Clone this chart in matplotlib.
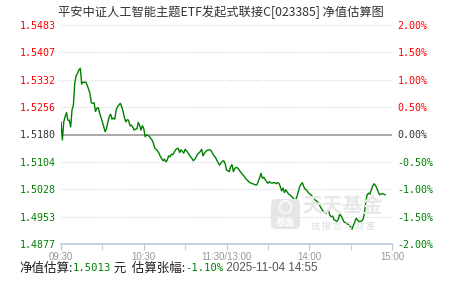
import numpy as np
import matplotlib
matplotlib.use("Agg")
import matplotlib.pyplot as plt
from matplotlib.patches import FancyBboxPatch, Circle
from matplotlib.transforms import Affine2D

plt.rcParams['font.family'] = ['Noto Sans CJK SC', 'DejaVu Sans']

# 估算涨跌幅 (%)，09:30 起每分钟一个点，到 14:55
pct = [0.23, -0.10, 0.23, 0.33, 0.40, 0.26, 0.26, 0.14, 0.45, 0.54,
       0.95, 1.07, 1.12, 1.18, 1.21, 0.92, 0.96, 0.95, 0.96, 0.90,
       0.83, 0.75, 0.58, 0.57, 0.58, 0.42, 0.48, 0.49, 0.39, 0.31,
       0.23, 0.14, 0.05, 0.11, 0.23, 0.33, 0.37, 0.28, 0.30, 0.28,
       0.45, 0.51, 0.54, 0.57, 0.51, 0.42, 0.31, 0.23, 0.27, 0.26,
       0.16, 0.17, 0.14, 0.08, 0.10, 0.10, 0.22, 0.17, 0.08, 0.16,
       0.11, -0.04, -0.01, -0.02, -0.03, -0.07, -0.10, -0.16, -0.25, -0.27,
       -0.30, -0.34, -0.40, -0.44, -0.48, -0.45, -0.50, -0.47, -0.39, -0.41,
       -0.36, -0.37, -0.33, -0.28, -0.26, -0.25, -0.33, -0.28, -0.31, -0.34,
       -0.27, -0.30, -0.33, -0.37, -0.41, -0.44, -0.48, -0.45, -0.41, -0.36,
       -0.34, -0.31, -0.27, -0.39, -0.34, -0.31, -0.29, -0.28, -0.28, -0.30,
       -0.35, -0.39, -0.42, -0.47, -0.52, -0.56, -0.52, -0.49, -0.48, -0.53,
       -0.65, -0.66, -0.68, -0.59, -0.55, -0.68, -0.62, -0.60, -0.61, -0.64,
       -0.68, -0.71, -0.74, -0.77, -0.81, -0.83, -0.86, -0.88, -0.89, -0.90,
       -0.91, -0.92, -0.92, -0.86, -0.79, -0.71, -0.80, -0.78, -0.82, -0.86,
       -0.89, -0.86, -0.88, -0.89, -0.88, -0.88, -0.90, -0.88, -0.89, -0.95,
       -1.03, -0.98, -1.06, -1.01, -1.05, -1.09, -1.10, -1.13, -1.15, -1.18,
       -1.21, -1.14, -1.05, -0.96, -0.91, -0.88, -0.95, -1.00, -1.01, -1.05,
       -1.08, -1.10, -1.12, -1.15, -1.19, -1.21, -1.23, -1.26, -1.32, -1.36,
       -1.40, -1.42, -1.44, -1.40, -1.38, -1.48, -1.50, -1.49, -1.56, -1.57,
       -1.59, -1.55, -1.46, -1.48, -1.53, -1.59, -1.61, -1.62, -1.64, -1.66,
       -1.68, -1.73, -1.66, -1.60, -1.53, -1.56, -1.59, -1.59, -1.58, -1.55,
       -1.44, -1.23, -1.10, -1.07, -1.09, -1.01, -0.94, -0.90, -0.93, -0.98,
       -1.05, -1.10, -1.09, -1.08, -1.09, -1.10]
minutes = np.arange(len(pct))

pct_ticks = [-2.0, -1.5, -1.0, -0.5, 0.0, 0.5, 1.0, 1.5, 2.0]
nav_labels = ['1.4877', '1.4953', '1.5028', '1.5104', '1.5180',
              '1.5256', '1.5332', '1.5407', '1.5483']
pct_labels = ['-2.00%', '-1.50%', '-1.00%', '-0.50%', '0.00%',
              '0.50%', '1.00%', '1.50%', '2.00%']
time_ticks = [0, 60, 120, 180, 240]
time_labels = ['09:30', '10:30', '11:30/13:00', '14:00', '15:00']

title = '平安中证人工智能主题ETF发起式联接C[023385] 净值估算图'
est_nav = '1.5013'
est_pct = '-1.10%'
est_time = '2025-11-04 14:55'

W, H = 451, 281
fig = plt.figure(figsize=(W / 100, H / 100), dpi=100)
fig.patch.set_facecolor('white')
ax = fig.add_axes([61 / W, 1 - 244 / H, 331 / W, 219 / H])
ax.set_facecolor('none')
px = Affine2D().scale(1, -1).translate(0, H)  # 像素坐标，原点左上

RED, GREEN, DARK = '#ff0000', '#008000', '#333333'


def sign_color(v):
    return RED if v > 0 else (GREEN if v < 0 else DARK)


# 网格
for v in pct_ticks:
    if v == 0:
        ax.axhline(v, color='#999999', lw=1.2, zorder=1)
    elif v != -2.0:
        ax.axhline(v, color='#d3d3d3', lw=0.8, ls=(0, (1, 1.5)), zorder=1)

ax.plot(minutes, pct, color=GREEN, lw=1.0, zorder=3)

ax.set_xlim(0, 240)
ax.set_ylim(-2, 2)
ax.set_xticks(time_ticks)
ax.set_xticklabels(time_labels, fontsize=7, color='#999999',
                   family=['Liberation Sans'])
ax.set_xticks([30, 90, 150, 210], minor=True)
ax.tick_params(axis='x', which='both', direction='out', length=4,
               color='#b8c8da', pad=2)
for s in ['top', 'left', 'right']:
    ax.spines[s].set_visible(False)
ax.spines['bottom'].set_color('#b8c8da')
ax.spines['bottom'].set_linewidth(1.2)

ax.set_yticks(pct_ticks)
ax.set_yticklabels(nav_labels, fontsize=7.2, family=['DejaVu Sans Mono'])
ax.tick_params(axis='y', length=0, pad=4)
for lab, v in zip(ax.get_yticklabels(), pct_ticks):
    lab.set_color(sign_color(v))

ax2 = ax.twinx()
ax2.set_ylim(-2, 2)
ax2.set_yticks(pct_ticks)
ax2.set_yticklabels(pct_labels, fontsize=7.2, family=['DejaVu Sans Mono'])
ax2.tick_params(axis='y', length=0, pad=4)
for lab, v in zip(ax2.get_yticklabels(), pct_ticks):
    lab.set_color(sign_color(v))
for s in ax2.spines.values():
    s.set_visible(False)

# 水印
logo = FancyBboxPatch((271, 199), 29, 30, boxstyle='round,pad=0,rounding_size=5',
                      transform=px, facecolor='#e6e6e6', edgecolor='none', zorder=0.5)
fig.add_artist(logo)
fig.add_artist(Circle((285.5, 207), 6, transform=px, facecolor='none',
                      edgecolor='#f7f7f7', lw=1.5, zorder=0.6))
fig.text(285.5 / W, 1 - 222 / H, '基金', fontsize=7, color='white', weight='bold',
         ha='center', va='center', zorder=0.6)
fig.text(343 / W, 1 - 206 / H, '天天基金', fontsize=14.5, color='#e8e8e8',
         weight='bold', ha='center', va='center', zorder=0.5)
fig.text(343 / W, 1 - 226 / H, '链 接 您 与 财 富', fontsize=6.5, color='#dddddd',
         ha='center', va='center', zorder=0.5)

fig.text(221 / W, 1 - 12 / H, title, fontsize=8.8, color=DARK,
         ha='center', va='center')

# 底部说明
renderer = fig.canvas.get_renderer()
pieces = [('净值估算:', '#222222', ['Noto Sans CJK SC'], 9),
          (est_nav, GREEN, ['DejaVu Sans Mono'], 7.6),
          (' 元  估算张幅:', '#222222', ['Noto Sans CJK SC'], 9),
          (est_pct, GREEN, ['DejaVu Sans Mono'], 7.6),
          (' ' + est_time, '#555555', ['Liberation Sans'], 8.4)]
x = 19 / W
for s, c, fam, fs in pieces:
    t = fig.text(x, 1 - 268 / H, s, color=c, family=fam, fontsize=fs, va='center')
    x += t.get_window_extent(renderer=renderer).width / fig.bbox.width

fig.savefig('out.png', dpi=100)
